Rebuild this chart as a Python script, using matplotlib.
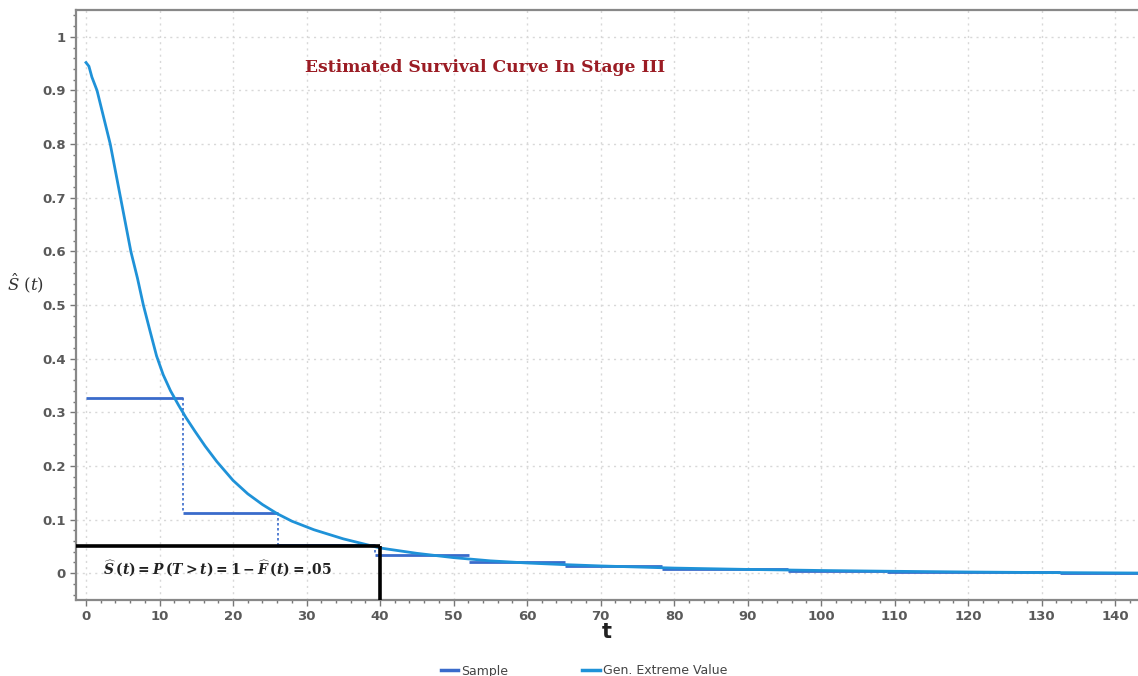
import matplotlib
matplotlib.use("Agg")
import matplotlib.pyplot as plt
from matplotlib.ticker import MultipleLocator, FuncFormatter
from matplotlib.lines import Line2D

# Fitted generalized extreme value survival curve
gev_t = [0, 0.4, 0.8, 1.5, 2.4, 3.3, 4.0, 4.7, 5.4, 6.1, 7.0, 7.8, 8.7, 9.6,
         10.5, 11.5, 12.6, 13.6, 14.8, 16.2, 17.8, 20, 22, 24, 26, 28, 31, 35,
         40, 45, 50, 55, 60, 65, 70, 80, 90, 100, 110, 120, 130, 143]
gev_s = [0.952, 0.945, 0.925, 0.9, 0.85, 0.8, 0.75, 0.7, 0.65, 0.6, 0.55, 0.5,
         0.452, 0.405, 0.37, 0.34, 0.313, 0.29, 0.265, 0.237, 0.208, 0.173,
         0.148, 0.128, 0.111, 0.097, 0.081, 0.064, 0.047, 0.037, 0.029, 0.023,
         0.019, 0.016, 0.0135, 0.0095, 0.007, 0.005, 0.0035, 0.0022, 0.0012,
         0.0003]

# Sample (Kaplan-Meier) step estimate: start of each step and its level
km_t = [0, 13.2, 26.1, 39.3, 52.1, 65.2, 78.3, 95.5, 109.0, 132.5, 143.2]
km_s = [0.327, 0.113, 0.052, 0.033, 0.020, 0.013, 0.0085, 0.0045, 0.002, 0.0005, 0.0005]

s_level = 0.05
t_level = 40

title_text = "Estimated Survival Curve In Stage III"

plt.rcParams["mathtext.fontset"] = "custom"
plt.rcParams["mathtext.it"] = "DejaVu Serif:italic:bold"
plt.rcParams["mathtext.rm"] = "DejaVu Serif:bold"
plt.rcParams["mathtext.bf"] = "DejaVu Serif:bold"

sample_col = "#3a6bcb"
gev_col = "#1f92d8"
tick_col = "#5a5a5a"

fig = plt.figure(figsize=(11.38, 6.76), dpi=100)
ax = fig.add_axes([76 / 1138, 1 - 600 / 676, 1 - 76 / 1138, 590 / 676])

ax.set_xlim(-1.36, 143.1)
ax.set_ylim(-0.05, 1.05)

# grid
ax.grid(True, which="major", color="#d8d8d8", linestyle=(0, (1.5, 3)), linewidth=1.0)
ax.set_axisbelow(True)

# sample steps: solid horizontals, dotted verticals
for i in range(len(km_t) - 1):
    ax.plot([km_t[i], km_t[i + 1]], [km_s[i], km_s[i]], color=sample_col,
            lw=2.0, solid_capstyle="butt", zorder=3)
    if i < 3:
        ax.plot([km_t[i + 1], km_t[i + 1]], [km_s[i], km_s[i + 1]],
                color=sample_col, lw=1.2, linestyle=(0, (1.5, 1.5)), zorder=3)

ax.plot(gev_t, gev_s, color=gev_col, lw=2.0, zorder=4,
        solid_joinstyle="round")

# reference box at S(t) = .05
ax.plot([ax.get_xlim()[0], t_level], [s_level, s_level], color="black", lw=2.6,
        solid_capstyle="butt", zorder=5, clip_on=False)
ax.plot([t_level, t_level], [s_level, ax.get_ylim()[0]], color="black", lw=2.6,
        solid_capstyle="butt", zorder=5, clip_on=False)
ax.text(2.3, 0.008,
        r"$\widehat{S}\,(t) = P\,(T > t) = 1 - \widehat{F}\,(t) =$.05",
        fontsize=10, color="#222222", va="center", ha="left", zorder=6,
        family="DejaVu Serif", fontweight="bold")

ax.text(29.8, 0.942, title_text, fontsize=12.3, fontweight="bold",
        family="DejaVu Serif", color="#9b1c24", va="center", ha="left")

# axes styling
for side in ["left", "bottom", "top"]:
    ax.spines[side].set_color("#888888")
    ax.spines[side].set_linewidth(1.6)
ax.spines["right"].set_visible(False)

ax.xaxis.set_major_locator(MultipleLocator(10))
ax.xaxis.set_minor_locator(MultipleLocator(2))
ax.yaxis.set_major_locator(MultipleLocator(0.1))
ax.yaxis.set_minor_locator(MultipleLocator(0.02))
ax.yaxis.set_major_formatter(FuncFormatter(lambda v, p: f"{v:g}" if v >= -1e-9 else ""))
ax.tick_params(which="both", direction="out", colors="#777777", labelcolor=tick_col,
               labelsize=9.5)
ax.tick_params(which="major", length=4, width=1)
ax.tick_params(which="minor", length=2.5, width=1)
for lab in ax.get_xticklabels() + ax.get_yticklabels():
    lab.set_fontweight("bold")

ax.set_xlabel("t", fontsize=15, fontweight="bold", color="#222222", labelpad=-1)
fig.text(25 / 1138, 1 - 283 / 676, r"$\hat{S}\ (t)$", fontsize=12,
         color="#333333", ha="center", va="center",
         math_fontfamily="dejavuserif")

handles = [Line2D([], [], color=sample_col, lw=2.5),
           Line2D([], [], color=gev_col, lw=2.5)]
fig.legend(handles, ["Sample", "Gen. Extreme Value"], loc="center",
           bbox_to_anchor=(584 / 1138, 1 - 671 / 676), ncol=2, frameon=False,
           fontsize=9, handlelength=1.4, handletextpad=0.25, columnspacing=5.9,
           labelcolor="#444444")

fig.savefig("out.png", dpi=100)
